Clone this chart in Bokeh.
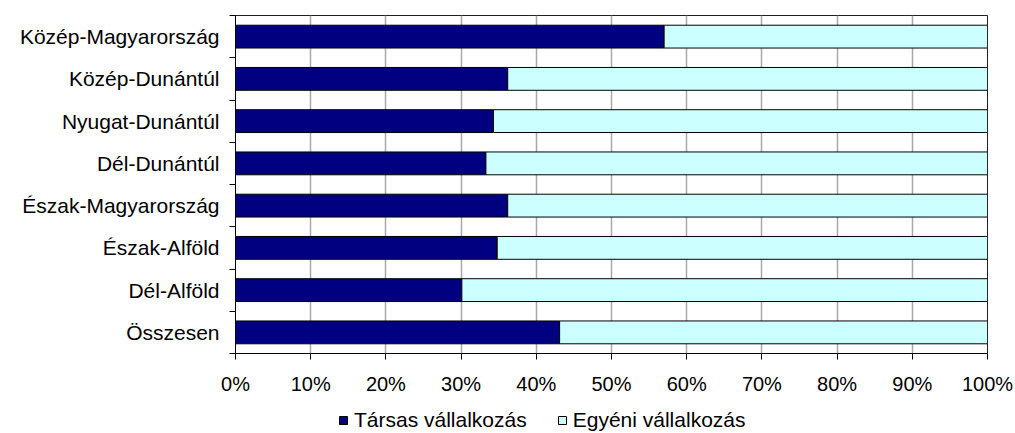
from bokeh.plotting import figure
from bokeh.layouts import column
from bokeh.models import ColumnDataSource, FixedTicker, Range1d, Legend, LegendItem, PrintfTickFormatter
from bokeh.embed import file_html
from bokeh.resources import INLINE

# data (top to bottom)
regions = ["Közép-Magyarország", "Közép-Dunántúl", "Nyugat-Dunántúl", "Dél-Dunántúl",
           "Észak-Magyarország", "Észak-Alföld", "Dél-Alföld", "Összesen"]
tarsas = [57.0, 36.2, 34.3, 33.3, 36.2, 34.8, 30.1, 43.1]
egyeni = [43.0, 63.8, 65.7, 66.7, 63.8, 65.2, 69.9, 56.9]
series_names = ["Társas vállalkozás", "Egyéni vállalkozás"]
colors = ["#000080", "#CCFFFF"]
x_ticks = [0, 10, 20, 30, 40, 50, 60, 70, 80, 90, 100]

n = len(regions)
ypos = [n - i - 0.5 for i in range(n)]
src = ColumnDataSource(dict(y=ypos, tarsas=tarsas, egyeni=egyeni, name=regions))

FONT = "Liberation Sans"

p = figure(width=1015, height=400, output_backend="svg", toolbar_location=None,
           x_range=Range1d(0, 100), y_range=Range1d(0, n),
           min_border_left=235, min_border_right=28, min_border_top=15, min_border_bottom=47)

r = p.hbar_stack(["tarsas", "egyeni"], y="y", height=0.54, source=src,
                 color=colors, line_color="black", line_width=1)

# grid
p.ygrid.visible = False
p.xgrid.ticker = FixedTicker(ticks=x_ticks)
p.xgrid.grid_line_color = "#a8a8a8"
p.xgrid.grid_line_width = 1.5
p.outline_line_color = "#202020"
p.outline_line_width = 1

# x axis
p.xaxis.ticker = FixedTicker(ticks=x_ticks)
p.xaxis.formatter = PrintfTickFormatter(format="%d%%")
p.xaxis.major_tick_out = 6
p.xaxis.major_tick_in = 0
p.xaxis.minor_tick_out = 0
p.xaxis.minor_tick_in = 0
p.xaxis.axis_line_color = "black"
p.xaxis.major_tick_line_color = "black"
p.xaxis.major_label_text_font = FONT
p.xaxis.major_label_text_font_size = "20px"
p.xaxis.major_label_text_color = "black"
p.xaxis.major_label_standoff = 13

# y axis: labels at centres, ticks at boundaries (as minor ticks)
p.yaxis.ticker = FixedTicker(ticks=ypos, minor_ticks=list(range(n + 1)))
p.yaxis.major_label_overrides = {y: name for y, name in zip(ypos, regions)}
p.yaxis.major_tick_out = 0
p.yaxis.major_tick_in = 0
p.yaxis.minor_tick_out = 6
p.yaxis.minor_tick_in = 0
p.yaxis.minor_tick_line_color = "black"
p.yaxis.axis_line_color = "black"
p.yaxis.major_label_text_font = FONT
p.yaxis.major_label_text_font_size = "21px"
p.yaxis.major_label_text_color = "black"
p.yaxis.major_label_standoff = 10

# legend strip below the chart (its frame is aligned with the chart's frame)
lg = figure(width=1015, height=33, output_backend="svg", toolbar_location=None,
            x_range=Range1d(0, 100), y_range=Range1d(100, 101),
            x_axis_type=None, y_axis_type=None, outline_line_color=None,
            min_border_left=0, min_border_right=0, min_border_top=0, min_border_bottom=0)
lg.grid.visible = False
lr = lg.hbar_stack(["tarsas", "egyeni"], y="y", height=0.54, source=src,
                   color=colors, line_color="black", line_width=1)

legend = Legend(items=[LegendItem(label=series_names[0], renderers=[lr[0]]),
                       LegendItem(label=series_names[1], renderers=[lr[1]])],
                orientation="horizontal", location=(103, 1),
                border_line_color=None, background_fill_alpha=0,
                label_text_font=FONT, label_text_font_size="21px",
                label_text_color="black", glyph_width=10, glyph_height=10,
                label_standoff=6, spacing=30, padding=0, margin=0)
lg.add_layout(legend, "center")

open("out.html", "w").write(file_html(column(p, lg, spacing=0), INLINE))
